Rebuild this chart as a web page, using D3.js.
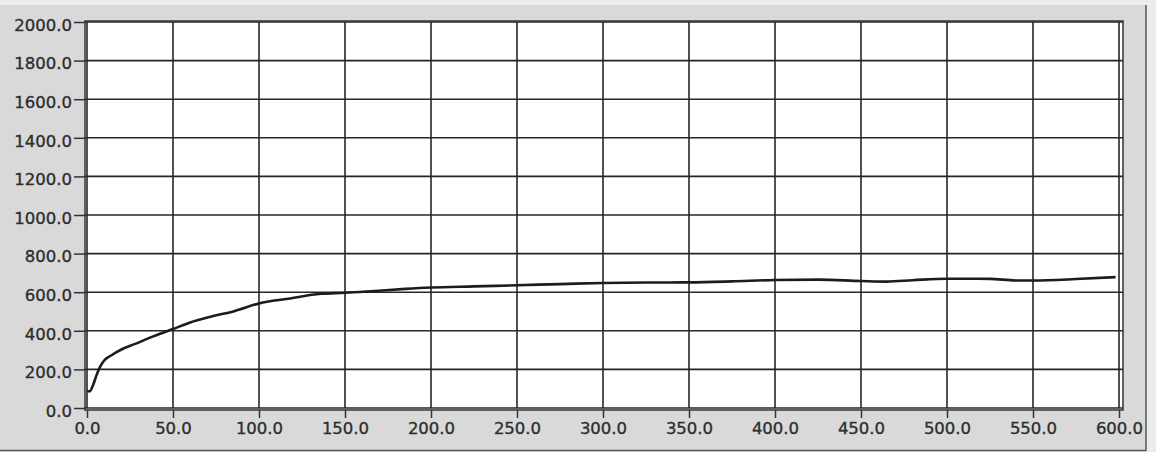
<!DOCTYPE html>
<html>
<head>
<meta charset="utf-8">
<script src="https://cdn.jsdelivr.net/npm/d3@7"></script>
<style>
  body { margin: 0; background: #ececec; }
  .chart text { font-family: "DejaVu Sans", Verdana, sans-serif; font-size: 16.5px; fill: #2e2e2e; stroke: #2e2e2e; stroke-width: 0.35px; }
</style>
</head>
<body>
<div class="chart"></div>
<script>
// time values (x axis)
const timeVals = [0, 1.5, 3.5, 5.5, 7.5, 10, 14, 20, 28, 37, 50, 60, 72, 86, 100, 117, 136, 150, 165, 185,
  200, 225, 250, 275, 300, 325, 350, 375, 400, 425, 450, 465, 480, 500, 525, 540, 550, 575, 598]
// measured values (y axis)
const seriesVals = [88, 86, 118, 169, 212, 246, 272, 303, 332, 366, 409, 443, 473, 503, 542, 566, 592, 597, 605, 617,
  624, 630, 636, 642, 648, 650, 651, 656, 663, 665, 658, 655, 662, 670, 669, 661, 661, 668, 678]
const xTicks = [0, 50, 100, 150, 200, 250, 300, 350, 400, 450, 500, 550, 600]
const yTicks = [0, 200, 400, 600, 800, 1000, 1200, 1400, 1600, 1800, 2000]

const W = 1156, H = 452
var margin = {left: 87, right: 37, top: 22, bottom: 44}

const data = timeVals.map((t, i) => ({t: t, v: seriesVals[i]}))

const svg = d3.select(".chart").selectAll("svg").data([0]).join("svg")
  .attr("width", W)
  .attr("height", H)

// grey panel behind everything
svg.append("rect").attr("x", 0).attr("y", 5).attr("width", 1146).attr("height", 445).attr("fill", "#d9d9d9")

const xs = d3.scaleLinear().domain([0, 600]).range([margin.left, W - margin.right])
const ys = d3.scaleLinear().domain([0, 2000]).range([H - margin.bottom, margin.top])

// white plot area
svg.append("rect")
  .attr("x", xs(0) - 2).attr("y", ys(2000) - 1)
  .attr("width", xs(600) - xs(0) + 6).attr("height", ys(0) - ys(2000) + 3)
  .attr("fill", "#fff")

// grid
svg.append("g").selectAll("line").data(xTicks).join("line")
  .attr("x1", d => xs(d)).attr("x2", d => xs(d))
  .attr("y1", ys(2000)).attr("y2", ys(0))
  .attr("stroke", "#262626").attr("stroke-width", 1.6)

svg.append("g").selectAll("line").data(yTicks).join("line")
  .attr("x1", xs(0) - 2).attr("x2", xs(600) + 4)
  .attr("y1", d => ys(d)).attr("y2", d => ys(d))
  .attr("stroke", "#262626").attr("stroke-width", 1.6)

// frame
svg.append("rect")
  .attr("x", xs(0) - 2).attr("y", ys(2000) - 1)
  .attr("width", xs(600) - xs(0) + 6).attr("height", ys(0) - ys(2000) + 3)
  .attr("fill", "none").attr("stroke", "#333").attr("stroke-width", 1.5)

// axes
const fmt = d3.format(".1f")
svg.append("g")
  .attr("transform", `translate(0,${ys(0) + 2})`)
  .call(d3.axisBottom(xs).tickValues(xTicks).tickFormat(fmt).tickSize(8).tickPadding(4))
  .call(g => g.select(".domain").remove())
  .call(g => g.selectAll("line").attr("stroke", "#333").attr("stroke-width", 1.5))
  .call(g => g.selectAll("text").attr("font-size", null).attr("font-family", null).attr("fill", null))

svg.append("g")
  .attr("transform", `translate(${xs(0) - 2},0)`)
  .call(d3.axisLeft(ys).tickValues(yTicks).tickFormat(fmt).tickSize(11).tickPadding(2))
  .call(g => g.select(".domain").remove())
  .call(g => g.selectAll("line").attr("stroke", "#333").attr("stroke-width", 1.5))
  .call(g => g.selectAll("text").attr("dy", "0.5em").attr("font-size", null).attr("font-family", null).attr("fill", null))

// the curve
var line = d3.line()
  .x(d => xs(d.t))
  .y(d => ys(d.v))
  .curve(d3.curveMonotoneX)

svg.append("path")
  .datum(data)
  .attr("d", line)
  .attr("fill", "none")
  .attr("stroke", "#1c1c1c")
  .attr("stroke-width", 2.6)

// right edge strip + sunken border
svg.append("rect").attr("x", 1147).attr("y", 0).attr("width", 9).attr("height", H).attr("fill", "#ececec")
svg.append("line").attr("x1", 1146).attr("x2", 1146).attr("y1", 5).attr("y2", 451).attr("stroke", "#555").attr("stroke-width", 1.5)
svg.append("line").attr("x1", 0).attr("x2", 1146).attr("y1", 450.5).attr("y2", 450.5).attr("stroke", "#555").attr("stroke-width", 1.5)
</script>
</body>
</html>
